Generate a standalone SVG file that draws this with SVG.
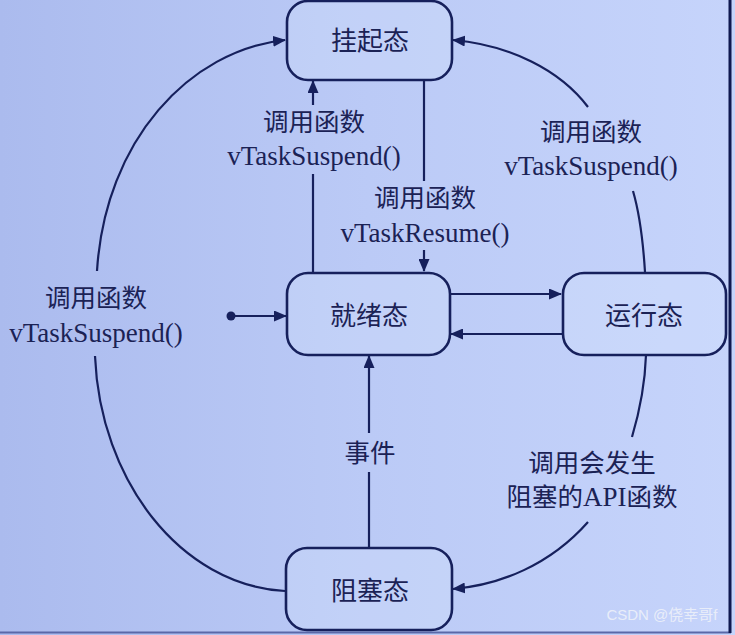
<svg xmlns="http://www.w3.org/2000/svg" width="735" height="635" viewBox="0 0 735 635">
  <defs>
    <linearGradient id="bg" x1="0" y1="0" x2="1" y2="0">
      <stop offset="0" stop-color="#abbbee"/>
      <stop offset="0.5" stop-color="#bbcaf6"/>
      <stop offset="1" stop-color="#c6d4fb"/>
    </linearGradient>
    <marker id="arrow" markerUnits="userSpaceOnUse" markerWidth="13" markerHeight="11" refX="12" refY="5.5" orient="auto">
      <path d="M0,0 L13,5.5 L0,11 z" fill="#16205c"/>
    </marker>
    <style>
      .state rect { fill: rgba(225,235,255,0.22); stroke: #16205c; stroke-width: 2.6; }
      .state text { font-family: "Noto Sans CJK SC", "Noto Sans", sans-serif; font-size: 26px; fill: #1b2255; text-anchor: middle; }
      .edges path, .edges line { fill: none; stroke: #16205c; stroke-width: 2.2; }
      .lbl { font-family: "Liberation Serif", "Noto Sans CJK SC", serif; font-size: 27px; fill: #1b2255; text-anchor: middle; }
      .cjk { font-family: "Noto Sans CJK SC", sans-serif; font-size: 25.5px; }
    </style>
  </defs>

  <!-- background and frame -->
  <rect x="0" y="0" width="735" height="635" fill="url(#bg)"/>
  <line x1="0" y1="632.5" x2="731" y2="632.5" stroke="#5a68a8" stroke-width="2"/>
  <line x1="730" y1="0" x2="730" y2="633" stroke="#0f1850" stroke-width="3"/>

  <!-- connectors -->
  <g class="edges" id="connectors">
    <!-- initial pseudo-state -->
    <circle cx="231" cy="316" r="4.5" fill="#16205c"/>
    <line x1="231" y1="316" x2="286" y2="316" marker-end="url(#arrow)"/>

    <!-- ready -> suspended -->
    <line x1="313" y1="272" x2="313" y2="174"/>
    <line x1="313" y1="105" x2="313" y2="81" marker-end="url(#arrow)"/>

    <!-- suspended -> ready (vTaskResume) -->
    <line x1="424" y1="80" x2="424" y2="181"/>
    <line x1="424" y1="250" x2="424" y2="271" marker-end="url(#arrow)"/>

    <!-- ready <-> running -->
    <line x1="450" y1="294" x2="561" y2="294" marker-end="url(#arrow)"/>
    <line x1="562" y1="334" x2="451" y2="334" marker-end="url(#arrow)"/>

    <!-- blocked -> ready (event) -->
    <line x1="369" y1="548" x2="369" y2="472"/>
    <line x1="369" y1="433" x2="369" y2="356" marker-end="url(#arrow)"/>

    <!-- blocked -> suspended (left arc) -->
    <path d="M95,356 C100,480 180,585 285,591"/>
    <path d="M97,271 C105,140 190,50 285,40" marker-end="url(#arrow)"/>

    <!-- running -> suspended (upper right arc) -->
    <path d="M645,272 C643,240 640,215 633,191"/>
    <path d="M588,107 C560,70 510,45 453,40" marker-end="url(#arrow)"/>

    <!-- running -> blocked (lower right arc) -->
    <path d="M646,355 C645,385 640,410 632,437"/>
    <path d="M588,522 C550,565 500,585 453,589" marker-end="url(#arrow)"/>
  </g>

  <!-- states -->
  <g class="state" id="suspended">
    <rect x="287" y="1" width="165" height="79" rx="21"/>
    <text x="370" y="50">挂起态</text>
  </g>
  <g class="state" id="ready">
    <rect x="287" y="273" width="163" height="82" rx="21"/>
    <text x="369" y="325">就绪态</text>
  </g>
  <g class="state" id="running">
    <rect x="563" y="273" width="163" height="82" rx="21"/>
    <text x="644" y="325">运行态</text>
  </g>
  <g class="state" id="blocked">
    <rect x="286" y="548" width="166" height="82" rx="21"/>
    <text x="370" y="600">阻塞态</text>
  </g>

  <!-- transition labels -->
  <g id="labels">
    <text class="lbl cjk" x="314" y="131">调用函数</text>
    <text class="lbl" x="314" y="165">vTaskSuspend()</text>

    <text class="lbl cjk" x="425" y="207">调用函数</text>
    <text class="lbl" x="425" y="242">vTaskResume()</text>

    <text class="lbl cjk" x="591" y="141">调用函数</text>
    <text class="lbl" x="591" y="175">vTaskSuspend()</text>

    <text class="lbl cjk" x="96" y="307">调用函数</text>
    <text class="lbl" x="96" y="342">vTaskSuspend()</text>

    <text class="lbl cjk" x="370" y="462">事件</text>

    <text class="lbl cjk" x="592" y="472">调用会发生</text>
    <text class="lbl" x="592" y="506"><tspan class="cjk">阻塞的</tspan>API<tspan class="cjk">函数</tspan></text>
  </g>

  <!-- watermark -->
  <text x="662" y="620" font-family="'Liberation Sans', 'Noto Sans CJK SC', sans-serif" font-size="15" fill="#eef1f9" fill-opacity="0.9" text-anchor="middle">CSDN @侥幸哥f</text>
</svg>
